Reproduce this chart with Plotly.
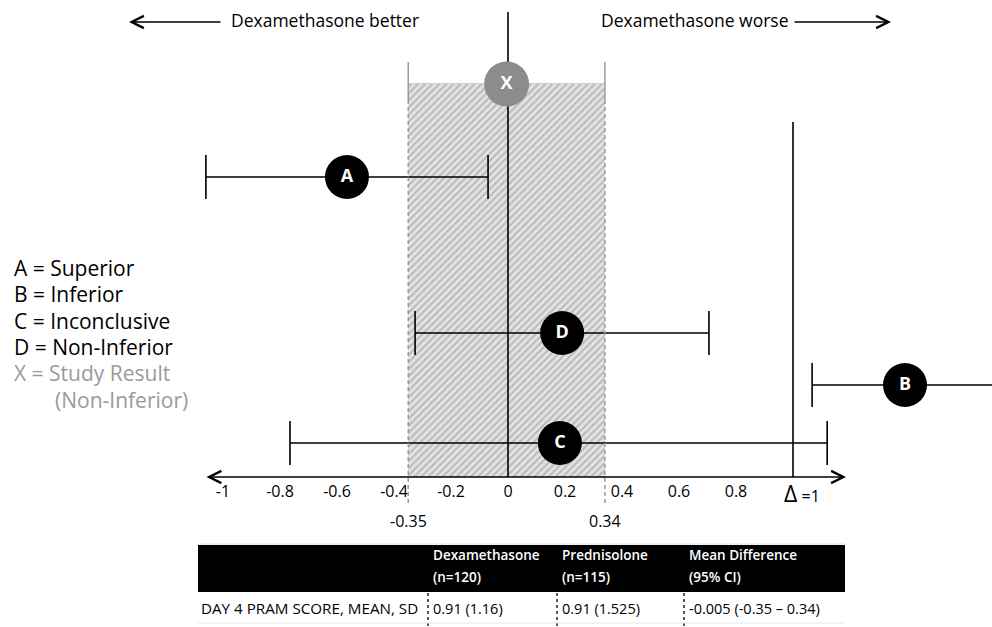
import plotly.graph_objects as go

# ---------------- data ----------------
row_labels = ["A", "D", "B", "C"]
row_points = [-0.565, 0.19, 1.393, 0.182]
row_ci_low = [-1.06, -0.326, 1.067, -0.765]
row_ci_high = [-0.07, 0.705, 1.9, 1.12]

study_label = "X"
study_point = -0.005
study_low = -0.35
study_high = 0.34
margin_delta = 1.0

tick_vals = [-1, -0.8, -0.6, -0.4, -0.2, 0, 0.2, 0.4, 0.6, 0.8]
tick_text = ["-1", "-0.8", "-0.6", "-0.4", "-0.2", "0", "0.2", "0.4", "0.6", "0.8"]

legend_lines = ["A = Superior", "B = Inferior", "C = Inconclusive", "D = Non-Inferior",
                "X = Study Result", "(Non-Inferior)"]

table_headers_1 = ["Dexamethasone", "Prednisolone", "Mean Difference"]
table_headers_2 = ["(n=120)", "(n=115)", "(95% CI)"]
table_row_label = "DAY 4 PRAM SCORE, MEAN, SD"
table_row_values = ["0.91 (1.16)", "0.91 (1.525)", "-0.005 (-0.35 – 0.34)"]

# ---------------- layout constants ----------------
W, H = 992, 627
X0_PX = 508
PX_PER_UNIT = 285
FONT = "Open Sans"
row_y = [177, 333, 385, 443]
axis_y = 477
study_y = 84
axis_ext = [(205 - X0_PX) / PX_PER_UNIT, (846 - X0_PX) / PX_PER_UNIT]

def px(xp):
    return xp / W

fig = go.Figure()

# hatched non-inferiority region (study CI)
fig.add_trace(go.Scatter(
    x=[study_low, study_high, study_high, study_low, study_low],
    y=[study_y, study_y, axis_y, axis_y, study_y],
    mode="lines", fill="toself", line=dict(width=0),
    fillcolor="#e4e4e4",
    fillpattern=dict(shape="/", fgcolor="#939393", bgcolor="#e4e4e4", size=5, solidity=0.45),
    hoverinfo="skip", showlegend=False))

# zero line and delta line
fig.add_trace(go.Scatter(x=[0, 0], y=[12, axis_y], mode="lines",
                         line=dict(color="black", width=1.6), hoverinfo="skip", showlegend=False))
fig.add_trace(go.Scatter(x=[margin_delta, margin_delta], y=[122, axis_y], mode="lines",
                         line=dict(color="black", width=1.6), hoverinfo="skip", showlegend=False))

# scenario intervals
fig.add_trace(go.Scatter(
    x=row_points, y=row_y, mode="markers+text", text=row_labels,
    textposition="middle center",
    textfont=dict(family=FONT, size=18, color="white", weight="bold"),
    marker=dict(size=44, color="black"),
    error_x=dict(type="data", symmetric=False,
                 array=[h - p for h, p in zip(row_ci_high, row_points)],
                 arrayminus=[p - l for l, p in zip(row_ci_low, row_points)],
                 color="black", thickness=1.6, width=22),
    cliponaxis=False, hoverinfo="skip", showlegend=False))

# study result
fig.add_trace(go.Scatter(
    x=[study_point], y=[study_y], mode="markers+text", text=[study_label],
    textposition="middle center",
    textfont=dict(family=FONT, size=18, color="white", weight="bold"),
    marker=dict(size=45, color="#8c8c8c"),
    cliponaxis=False, hoverinfo="skip", showlegend=False))

shapes = []
# region edges
for xv in (study_low, study_high):
    shapes.append(dict(type="line", xref="x", yref="y", x0=xv, x1=xv, y0=62, y1=100,
                       line=dict(color="#9a9a9a", width=1.5)))
    shapes.append(dict(type="line", xref="x", yref="y", x0=xv, x1=xv, y0=100, y1=506,
                       line=dict(color="#9a9a9a", width=1.5, dash="4px,3px")))
shapes.append(dict(type="line", xref="x", yref="y", x0=study_low, x1=study_high, y0=study_y, y1=study_y,
                   line=dict(color="#a0a0a0", width=1.2), layer="below"))

# table
shapes.append(dict(type="line", xref="paper", yref="y", x0=px(198), x1=px(845), y0=544, y1=544,
                   line=dict(color="#e0e0e0", width=1)))
shapes.append(dict(type="rect", xref="paper", yref="y", x0=px(198), x1=px(845), y0=545, y1=592,
                   fillcolor="black", line=dict(width=0)))
for xc in (428, 557, 684):
    shapes.append(dict(type="line", xref="paper", yref="y", x0=px(xc), x1=px(xc), y0=593, y1=627,
                       line=dict(color="black", width=1.3, dash="dot")))
shapes.append(dict(type="line", xref="paper", yref="y", x0=px(198), x1=px(845), y0=623, y1=623,
                   line=dict(color="#e6e6e6", width=1)))

annotations = []
# axis line with arrows
annotations.append(dict(x=axis_ext[1], y=axis_y, ax=axis_ext[0], ay=axis_y, xref="x", yref="y",
                        axref="x", ayref="y", text="", showarrow=True, arrowside="end+start",
                        arrowhead=5, arrowsize=1.6, arrowwidth=1.5, arrowcolor="black"))
# top direction arrows
annotations.append(dict(x=px(129), y=22, xref="paper", yref="y", ax=93, ay=0, text="",
                        showarrow=True, arrowhead=5, arrowsize=1.6, arrowwidth=1.5, arrowcolor="black"))
annotations.append(dict(x=px(891), y=22, xref="paper", yref="y", ax=-98, ay=0, text="",
                        showarrow=True, arrowhead=5, arrowsize=1.6, arrowwidth=1.5, arrowcolor="black"))
annotations.append(dict(x=px(229), y=20, xref="paper", yref="y", text="Dexamethasone better",
                        xanchor="left", showarrow=False, font=dict(family=FONT, size=17.5, color="black")))
annotations.append(dict(x=px(791), y=20, xref="paper", yref="y", text="Dexamethasone worse",
                        xanchor="right", showarrow=False, font=dict(family=FONT, size=17.5, color="black")))

# delta label and CI bound labels
annotations.append(dict(x=margin_delta, y=493, xref="x", yref="y", xshift=9,
                        text="<span style='font-size:23px'>Δ</span> =1",
                        showarrow=False, font=dict(family=FONT, size=16, color="black")))
for xv, t in ((study_low, "-0.35"), (study_high, "0.34")):
    annotations.append(dict(x=xv, y=521, xref="x", yref="y", text=t, showarrow=False,
                            font=dict(family=FONT, size=16, color="black")))

# legend text
for i, line in enumerate(legend_lines):
    color = "black" if i < 4 else "#9a9a9a"
    xl = 12 if i < 5 else 53
    annotations.append(dict(x=px(xl), y=268 + 26.3 * i, xref="paper", yref="y", text=line,
                            xanchor="left", showarrow=False,
                            font=dict(family=FONT, size=21, color=color)))

# table text
col_x = [431, 560, 687]
for xc, h1, h2, vtxt in zip(col_x, table_headers_1, table_headers_2, table_row_values):
    annotations.append(dict(x=px(xc), y=555, xref="paper", yref="y", text=h1, xanchor="left",
                            showarrow=False, font=dict(family=FONT, size=13.5, color="white", weight=600)))
    annotations.append(dict(x=px(xc), y=577, xref="paper", yref="y", text=h2, xanchor="left",
                            showarrow=False, font=dict(family=FONT, size=13.5, color="white", weight=600)))
    annotations.append(dict(x=px(xc), y=608, xref="paper", yref="y", text=vtxt, xanchor="left",
                            showarrow=False, font=dict(family=FONT, size=14.5, color="black")))
annotations.append(dict(x=px(199), y=608, xref="paper", yref="y", text=table_row_label,
                        xanchor="left", showarrow=False,
                        font=dict(family=FONT, size=15.2, color="black")))

fig.update_layout(
    width=W, height=H, margin=dict(l=0, r=0, t=0, b=0),
    paper_bgcolor="white", plot_bgcolor="white",
    xaxis=dict(range=[-X0_PX / PX_PER_UNIT, (W - X0_PX) / PX_PER_UNIT], domain=[0, 1],
               anchor="free", position=1 - axis_y / H, showline=False, showgrid=False,
               zeroline=False, ticks="", tickvals=tick_vals, ticktext=tick_text,
               ticklabelstandoff=3,
               tickfont=dict(family=FONT, size=16, color="black"), fixedrange=True),
    yaxis=dict(range=[H, 0], domain=[0, 1], visible=False, showgrid=False, zeroline=False,
               fixedrange=True),
    shapes=shapes, annotations=annotations,
)

fig.write_html("out.html", config={"displayModeBar": False},
               post_script="document.body.style.margin='0';")
